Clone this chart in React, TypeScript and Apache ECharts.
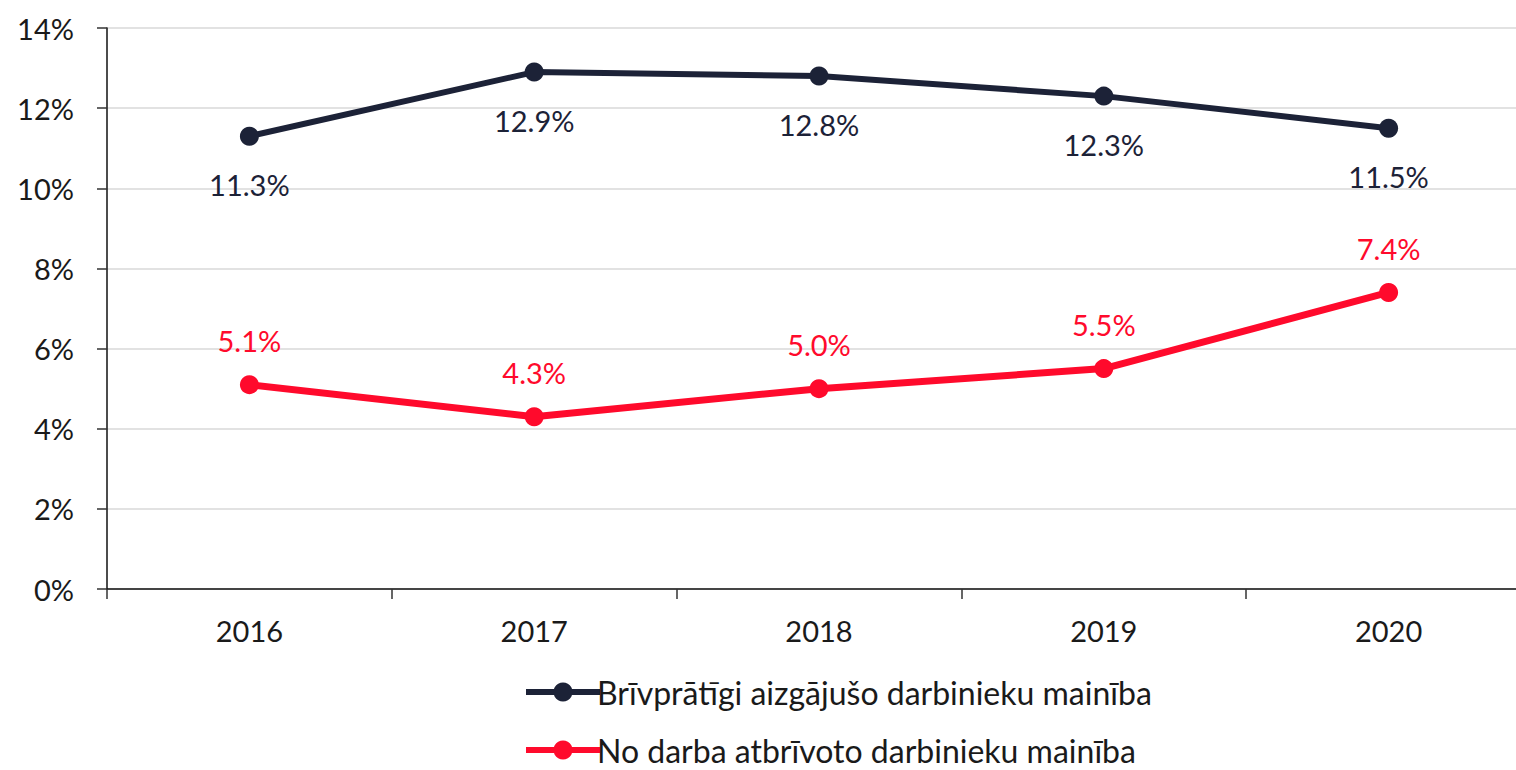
import React, { useEffect, useRef } from "react";
import * as echarts from "echarts";

const years = ["2016", "2017", "2018", "2019", "2020"];
const voluntary = [11.3, 12.9, 12.8, 12.3, 11.5];
const dismissed = [5.1, 4.3, 5.0, 5.5, 7.4];
const seriesNames = [
  "Brīvprātīgi aizgājušo darbinieku mainība",
  "No darba atbrīvoto darbinieku mainība",
];

const DARK = "#1c2237";
const RED = "#ff0a2c";
const FONT = "Lato, 'Open Sans', sans-serif";

const legendBase = {
  orient: "horizontal",
  left: 518,
  itemWidth: 74,
  itemHeight: 24,
  lineStyle: { width: 6 },
  textStyle: { color: "#1a1a1a", fontSize: 32, lineHeight: 32, fontFamily: FONT, padding: [0, 0, 0, -8] },
};

export default function App() {
  const ref = useRef<HTMLDivElement>(null);
  useEffect(() => {
    document.body.style.margin = "0";
    document.body.style.overflow = "hidden";
    document.documentElement.style.overflow = "hidden";
    const chart = echarts.init(ref.current!, null, { renderer: "svg" });
    chart.setOption({
      animation: false,
      backgroundColor: "#fff",
      textStyle: { fontFamily: FONT },
      grid: { left: 107, top: 28, width: 1424, height: 561, outerBoundsMode: "none", containLabel: false },
      xAxis: {
        type: "category",
        data: years,
        boundaryGap: true,
        axisLine: { lineStyle: { color: "#111", width: 1.5 } },
        axisTick: { show: true, length: 10, inside: false, lineStyle: { color: "#333", width: 1.5 } },
        axisLabel: { color: "#1a1a1a", fontSize: 29, margin: 27, fontFamily: FONT },
        splitLine: { show: false },
      },
      yAxis: {
        type: "value",
        min: 0,
        max: 14,
        interval: 2,
        axisLine: { show: true, lineStyle: { color: "#111", width: 1.5 } },
        axisTick: { show: true, length: 10, lineStyle: { color: "#333", width: 1.5 } },
        axisLabel: {
          color: "#1a1a1a",
          fontSize: 29,
          margin: 33,
          fontFamily: FONT,
          formatter: "{value}%",
        },
        splitLine: { show: true, lineStyle: { color: "#d9d9d9", width: 1.5 } },
      },
      legend: [
        { ...legendBase, top: 671, data: [seriesNames[0]] },
        { ...legendBase, top: 729, data: [seriesNames[1]] },
      ],
      series: [
        {
          name: seriesNames[0],
          type: "line",
          data: voluntary,
          symbol: "circle",
          symbolSize: 19,
          color: DARK,
          lineStyle: { color: DARK, width: 6 },
          itemStyle: { color: DARK },
          label: {
            show: true,
            position: "bottom",
            distance: 24,
            color: DARK,
            fontSize: 29,
            fontFamily: FONT,
            formatter: (p: any) => p.value.toFixed(1) + "%",
          },
        },
        {
          name: seriesNames[1],
          type: "line",
          data: dismissed,
          symbol: "circle",
          symbolSize: 19,
          color: RED,
          lineStyle: { color: RED, width: 7 },
          itemStyle: { color: RED },
          label: {
            show: true,
            position: "top",
            distance: 20,
            color: RED,
            fontSize: 29,
            fontFamily: FONT,
            formatter: (p: any) => p.value.toFixed(1) + "%",
          },
        },
      ],
    });
    return () => chart.dispose();
  }, []);
  return <div ref={ref} style={{ width: 1532, height: 770 }} />;
}
